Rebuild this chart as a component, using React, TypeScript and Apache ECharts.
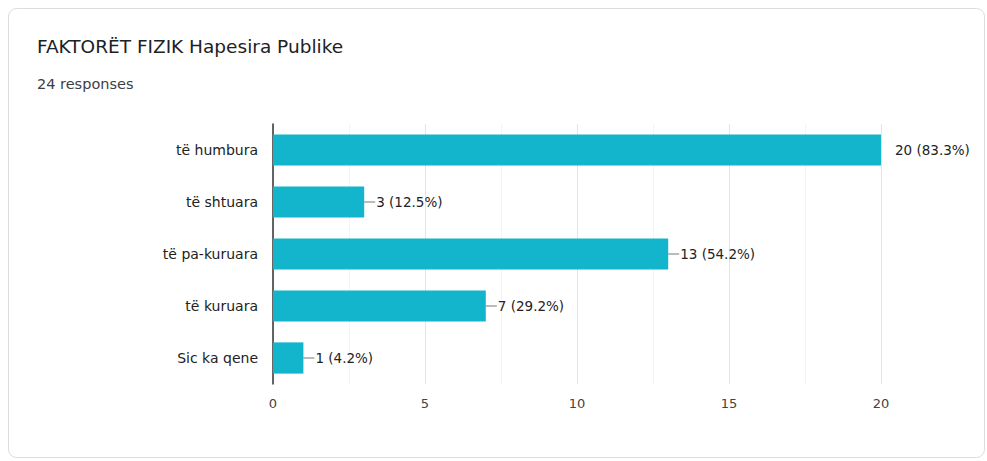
import React, { useEffect, useRef } from "react";
import * as echarts from "echarts";

const title = "FAKTORËT FIZIK Hapesira Publike";
const subtitle = "24 responses";
const totalResponses = 24;
const categories = ["të humbura", "të shtuara", "të pa-kuruara", "të kuruara", "Sic ka qene"];
const values = [20, 3, 13, 7, 1];
const xTicks = { min: 0, max: 20, interval: 5 };

const FONT = "'DejaVu Sans', 'Liberation Sans', Arial, sans-serif";

export default function App() {
  const ref = useRef<HTMLDivElement>(null);
  useEffect(() => {
    if (!ref.current) return;
    const chart = echarts.init(ref.current, undefined, { renderer: "svg" });
    const maxV = Math.max(...values);
    chart.setOption({
      animation: false,
      backgroundColor: "#ffffff",
      textStyle: { fontFamily: FONT },
      graphic: [
        {
          type: "rect",
          shape: { x: 8.5, y: 8.5, width: 976, height: 449, r: 8 },
          style: { fill: "#ffffff", stroke: "#dadce0", lineWidth: 1 },
          z: -10,
        },
        {
          type: "text",
          x: 37,
          y: 37,
          style: { text: title, fill: "#202124", font: `18.5px ${FONT}` },
        },
        {
          type: "text",
          x: 37,
          y: 76,
          style: { text: subtitle, fill: "#3c4043", font: `14.5px ${FONT}` },
        },
      ],
      grid: { left: 273, right: 106, top: 124, bottom: 77 },
      xAxis: {
        type: "value",
        min: xTicks.min,
        max: xTicks.max,
        interval: xTicks.interval,
        axisLine: { show: false },
        axisTick: { show: false },
        axisLabel: { color: "#444", fontSize: 13, margin: 13, fontFamily: FONT },
        splitLine: { show: true, lineStyle: { color: "#e3e3e3", width: 1 } },
        minorTick: { show: false, splitNumber: 2 },
        minorSplitLine: { show: true, lineStyle: { color: "#f4f4f4", width: 1 } },
      },
      yAxis: {
        type: "category",
        data: categories,
        inverse: true,
        axisLine: { show: true, lineStyle: { color: "#333", width: 1.5 } },
        axisTick: { show: false },
        axisLabel: { color: "#222", fontSize: 14, margin: 15, fontFamily: FONT },
      },
      series: [
        {
          type: "bar",
          data: values,
          barWidth: "60%",
          itemStyle: { color: "#12b5cb" },
          label: {
            show: true,
            position: "right",
            distance: 0,
            color: "#222",
            fontSize: 13,
            fontFamily: FONT,
            formatter: (p: any) => {
              const v = p.value as number;
              const pct = ((v / totalResponses) * 100).toFixed(1);
              const t = `${v} (${pct}%)`;
              return v === maxV ? `{g|}{t|${t}}` : `{l|}{t|${t}}`;
            },
            rich: {
              l: { width: 11, height: 1, backgroundColor: "#777", verticalAlign: "middle" },
              g: { width: 13, height: 1 },
              t: { fontSize: 13.5, color: "#222", fontFamily: FONT, padding: [0, 0, 0, 1] },
            },
          },
        },
      ],
    });
    return () => chart.dispose();
  }, []);
  return (
    <div
      ref={ref}
      style={{ position: "fixed", left: 0, top: 0, width: 987, height: 461 }}
    />
  );
}
